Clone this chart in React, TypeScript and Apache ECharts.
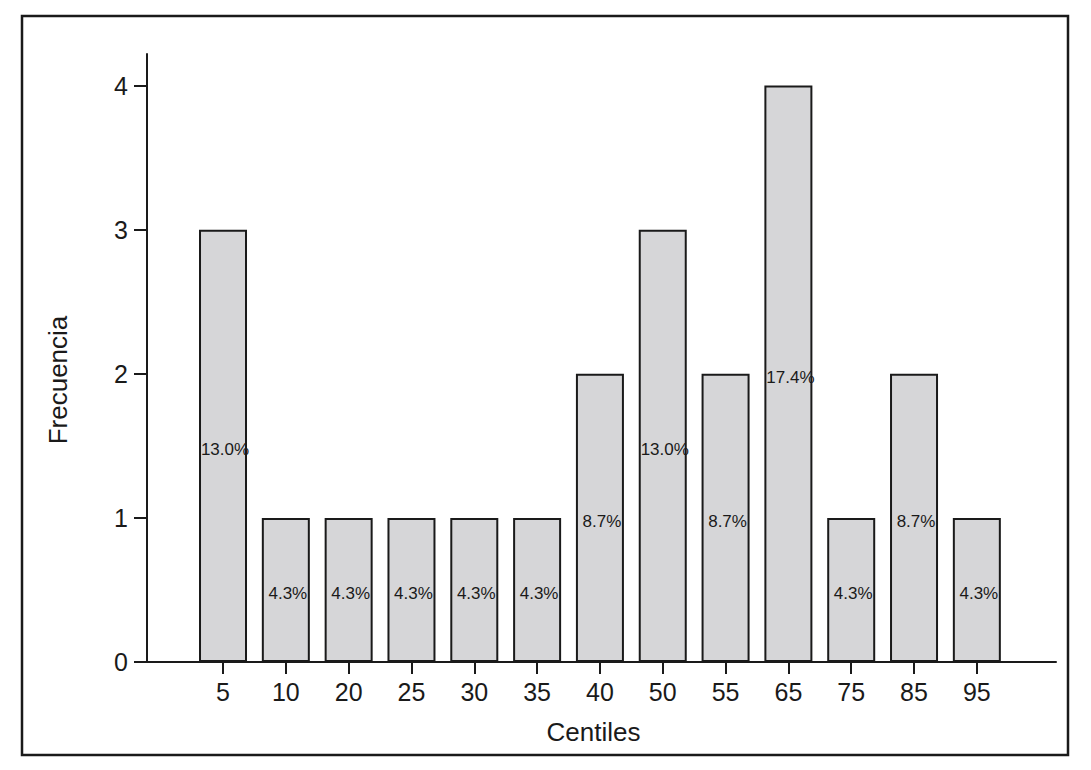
import React, { useEffect, useRef } from "react";
import * as echarts from "echarts";

const categories = ["5", "10", "20", "25", "30", "35", "40", "50", "55", "65", "75", "85", "95"];
const frequencies = [3, 1, 1, 1, 1, 1, 2, 3, 2, 4, 1, 2, 1];
const percentLabels = ["13.0%", "4.3%", "4.3%", "4.3%", "4.3%", "4.3%", "8.7%", "13.0%", "8.7%", "17.4%", "4.3%", "8.7%", "4.3%"];
const yTicks = [0, 1, 2, 3, 4];

export default function App() {
  const ref = useRef<HTMLDivElement>(null);
  useEffect(() => {
    document.body.style.margin = "0";
    const chart = echarts.init(ref.current!, null, { renderer: "svg" });
    const positions = categories.map((_, i) => i);
    chart.setOption({
      animation: false,
      backgroundColor: "#ffffff",
      textStyle: { fontFamily: "Liberation Sans, Arial, sans-serif" },
      grid: { left: 147, right: 35, top: 54, bottom: 108 },
      graphic: [
        {
          type: "rect",
          shape: { x: 22, y: 16, width: 1046, height: 739 },
          style: { fill: "none", stroke: "#1a1a1a", lineWidth: 2.5 },
          silent: true,
        },
      ],
      xAxis: {
        type: "value",
        min: -1.21,
        max: 13.26,
        name: "Centiles",
        nameLocation: "middle",
        nameGap: 57,
        nameTextStyle: { fontSize: 26, color: "#1a1a1a", padding: [0, 16, 0, 0] },
        splitLine: { show: false },
        axisLine: { show: true, onZero: false, lineStyle: { color: "#1a1a1a", width: 2 } },
        axisTick: { show: true, customValues: positions, length: 12, lineStyle: { color: "#1a1a1a", width: 2 } },
        axisLabel: {
          customValues: positions,
          formatter: (v: number) => categories[Math.round(v)] ?? "",
          fontSize: 25,
          color: "#1a1a1a",
          margin: 17,
        },
      },
      yAxis: {
        type: "value",
        min: 0,
        max: 4.219,
        name: "Frecuencia",
        nameLocation: "middle",
        nameGap: 76,
        nameTextStyle: { fontSize: 26, color: "#1a1a1a", padding: [0, 44, 0, 0] },
        splitLine: { show: false },
        axisLine: { show: true, onZero: false, lineStyle: { color: "#1a1a1a", width: 2 } },
        axisTick: { show: true, customValues: yTicks, length: 13, lineStyle: { color: "#1a1a1a", width: 2 } },
        axisLabel: {
          customValues: yTicks,
          fontSize: 25,
          color: "#1a1a1a",
          margin: 19,
        },
      },
      series: [
        {
          type: "bar",
          barWidth: 48,
          data: frequencies.map((v, i) => [i, v]),
          itemStyle: { color: "#d6d6d8", borderColor: "#1a1a1a", borderWidth: 2 },
          label: {
            show: true,
            position: "inside",
            offset: [2, 4],
            formatter: (p: any) => percentLabels[p.dataIndex],
            fontSize: 17,
            fontFamily: "Liberation Sans Narrow, Liberation Sans, Arial, sans-serif",
            color: "#1a1a1a",
          },
        },
      ],
    });
    return () => chart.dispose();
  }, []);
  return <div ref={ref} style={{ width: 1091, height: 770 }} />;
}
